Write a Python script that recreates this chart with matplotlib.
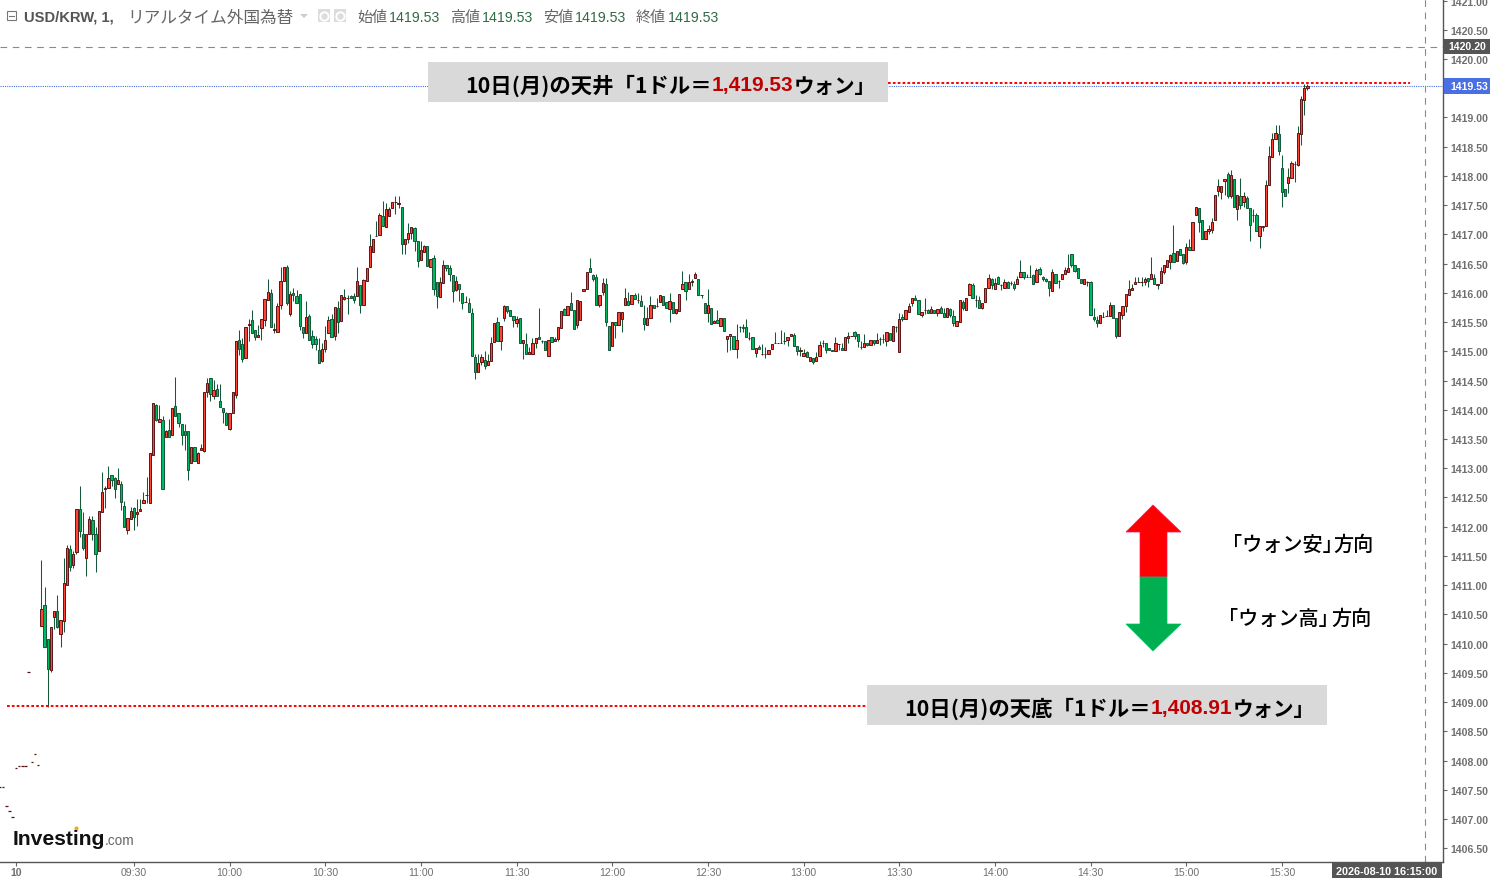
import matplotlib
matplotlib.use("Agg")
import matplotlib.pyplot as plt
from matplotlib.patches import Polygon, Rectangle

# 1 minute USD/KRW candles: (open, high, low, close)
# minutes are counted from 09:00, the first row of each list starts at its start_ value
pre_minutes = [-12, -11, -10, -9, -8, -7, -6, -5, -4, -3, -2, -1, 0]
pre_prices = [1407.54, 1407.54, 1407.22, 1407.13, 1407.04, 1407.88, 1407.90, 1407.90, 1407.90, 1409.52, 1407.98, 1408.12, 1407.93]

start_a = 1
candles_a = [
    (1410.30, 1411.43, 1410.30, 1410.59), (1410.66, 1410.96, 1409.95, 1409.95), (1410.08, 1410.08, 1408.91, 1409.57),
    (1409.55, 1410.28, 1409.52, 1410.28), (1410.45, 1410.55, 1410.25, 1410.55), (1410.55, 1410.83, 1410.27, 1410.29),
    (1410.16, 1410.41, 1409.95, 1410.41), (1410.39, 1411.47, 1410.20, 1411.04), (1411.01, 1411.68, 1411.01, 1411.64),
    (1411.61, 1411.68, 1411.25, 1411.31), (1411.35, 1411.59, 1411.29, 1411.54), (1411.57, 1412.31, 1411.54, 1412.31),
    (1412.30, 1412.69, 1411.83, 1411.92), (1411.87, 1412.25, 1411.60, 1411.63), (1411.47, 1411.87, 1411.16, 1411.87),
    (1411.88, 1412.18, 1411.88, 1412.13), (1412.11, 1412.18, 1411.78, 1411.87), (1411.88, 1412.00, 1411.23, 1411.54),
    (1411.58, 1412.26, 1411.58, 1412.26), (1412.25, 1412.93, 1412.25, 1412.59), (1412.64, 1412.69, 1412.32, 1412.66),
    (1412.66, 1413.04, 1412.66, 1412.83), (1412.88, 1412.88, 1412.70, 1412.80), (1412.83, 1412.85, 1412.49, 1412.64),
    (1412.73, 1413.01, 1412.73, 1412.80), (1412.73, 1412.78, 1412.28, 1412.42), (1412.35, 1412.44, 1411.99, 1411.99),
    (1411.94, 1412.15, 1411.88, 1412.15), (1412.13, 1412.33, 1412.13, 1412.27), (1412.32, 1412.33, 1411.94, 1412.16),
    (1412.21, 1412.48, 1412.02, 1412.25), (1412.26, 1412.48, 1412.26, 1412.30), (1412.40, 1412.59, 1412.40, 1412.46),
    (1412.55, 1412.85, 1412.41, 1412.55), (1412.40, 1413.26, 1412.40, 1413.26), (1413.22, 1414.11, 1413.22, 1414.11),
    (1414.08, 1414.10, 1413.80, 1413.82), (1413.79, 1414.08, 1413.79, 1413.84), (1413.82, 1413.89, 1412.64, 1412.64),
    (1413.53, 1413.65, 1413.53, 1413.63), (1413.66, 1413.85, 1413.54, 1413.54), (1413.57, 1414.03, 1413.57, 1414.03),
    (1414.06, 1414.56, 1413.89, 1413.90), (1413.94, 1413.94, 1413.70, 1413.77), (1413.75, 1413.75, 1413.39, 1413.57),
    (1413.63, 1413.76, 1413.32, 1413.57), (1413.63, 1413.63, 1412.79, 1412.97), (1413.09, 1413.37, 1413.09, 1413.37),
    (1413.36, 1413.36, 1413.13, 1413.13), (1413.09, 1413.28, 1413.09, 1413.26), (1413.31, 1413.42, 1413.31, 1413.35),
    (1413.30, 1414.30, 1413.28, 1414.30), (1414.31, 1414.55, 1414.22, 1414.45), (1414.54, 1414.55, 1414.15, 1414.27),
    (1414.24, 1414.51, 1414.19, 1414.34), (1414.35, 1414.44, 1414.23, 1414.23), (1414.15, 1414.44, 1414.04, 1414.04),
    (1414.03, 1414.03, 1413.78, 1413.97), (1413.94, 1413.96, 1413.74, 1413.74), (1413.67, 1413.94, 1413.65, 1413.94),
    (1413.94, 1414.30, 1413.94, 1414.30), (1414.25, 1415.18, 1414.20, 1415.17),
]

start_a2 = 63
candles_a2 = [
    (1415.19, 1415.37, 1414.93, 1415.04), (1415.12, 1415.23, 1414.82, 1414.86), (1414.88, 1415.41, 1414.88, 1415.41),
    (1415.45, 1415.55, 1415.17, 1415.47), (1415.54, 1415.71, 1415.31, 1415.31), (1415.36, 1415.36, 1415.20, 1415.24),
    (1415.24, 1415.45, 1415.24, 1415.28), (1415.40, 1415.55, 1415.20, 1415.55), (1415.53, 1415.89, 1415.44, 1415.89),
    (1415.88, 1416.24, 1415.88, 1416.01), (1415.99, 1416.07, 1415.41, 1415.41), (1415.36, 1415.49, 1415.32, 1415.38),
    (1415.33, 1415.83, 1415.33, 1415.77), (1415.79, 1416.45, 1415.73, 1416.20), (1416.20, 1416.45, 1416.20, 1416.44),
    (1416.44, 1416.48, 1415.80, 1415.82), (1415.64, 1416.04, 1415.60, 1415.98), (1416.00, 1416.09, 1415.86, 1415.96),
    (1415.94, 1416.05, 1415.82, 1415.82), (1415.98, 1415.98, 1415.37, 1415.43), (1415.41, 1415.41, 1415.23, 1415.31),
    (1415.31, 1415.86, 1415.31, 1415.59), (1415.61, 1415.63, 1415.19, 1415.19), (1415.26, 1415.37, 1415.06, 1415.12),
    (1415.21, 1415.26, 1415.02, 1415.12), (1415.02, 1415.23, 1414.80, 1414.80), (1414.83, 1415.14, 1414.82, 1415.04),
    (1415.04, 1415.44, 1414.98, 1415.19), (1415.31, 1415.61, 1415.31, 1415.53), (1415.55, 1415.64, 1415.24, 1415.24),
    (1415.26, 1415.76, 1415.19, 1415.76), (1415.74, 1415.86, 1415.32, 1415.50), (1415.52, 1415.96, 1415.52, 1415.96),
    (1415.89, 1416.07, 1415.87, 1415.93), (1415.92, 1415.97, 1415.63, 1415.92), (1415.94, 1415.97, 1415.91, 1415.91),
    (1415.94, 1416.00, 1415.82, 1415.88), (1415.94, 1416.45, 1415.94, 1416.20), (1416.13, 1416.13, 1415.66, 1415.79),
    (1415.79, 1416.23, 1415.79, 1416.22), (1416.20, 1416.42, 1416.20, 1416.42), (1416.44, 1417.01, 1416.44, 1416.80),
]

start_a3 = 105
candles_a3 = [
    (1416.70, 1416.92, 1416.70, 1416.92), (1416.97, 1417.23, 1416.97, 1416.97), (1416.99, 1417.36, 1416.99, 1417.33),
    (1417.31, 1417.57, 1417.14, 1417.14), (1417.12, 1417.53, 1417.12, 1417.43), (1417.31, 1417.47, 1417.31, 1417.43),
    (1417.45, 1417.55, 1417.45, 1417.55), (1417.55, 1417.65, 1417.35, 1417.55), (1417.52, 1417.65, 1417.45, 1417.54),
    (1417.47, 1417.47, 1416.67, 1416.83), (1416.83, 1416.92, 1416.66, 1416.92), (1416.92, 1417.19, 1416.85, 1417.02),
    (1417.02, 1417.12, 1416.92, 1417.12), (1417.11, 1417.12, 1416.71, 1416.89), (1416.89, 1416.89, 1416.44, 1416.54),
    (1416.56, 1416.89, 1416.56, 1416.73), (1416.70, 1416.81, 1416.70, 1416.80), (1416.80, 1416.80, 1416.46, 1416.46),
    (1416.44, 1416.58, 1416.44, 1416.58), (1416.59, 1416.65, 1415.97, 1416.06), (1416.18, 1416.18, 1415.74, 1415.94),
    (1415.93, 1416.27, 1415.93, 1416.18), (1416.17, 1416.57, 1416.17, 1416.47), (1416.47, 1416.47, 1416.37, 1416.42),
    (1416.42, 1416.48, 1416.21, 1416.32), (1416.30, 1416.30, 1415.84, 1416.03), (1416.05, 1416.29, 1416.03, 1416.20),
    (1416.15, 1416.15, 1415.86, 1416.06), (1415.99, 1415.99, 1415.72, 1415.82), (1415.84, 1415.94, 1415.84, 1415.84),
    (1415.82, 1415.91, 1415.67, 1415.67), (1415.65, 1415.74, 1414.92, 1414.92), (1414.90, 1414.96, 1414.53, 1414.65),
    (1414.65, 1414.96, 1414.65, 1414.80), (1414.82, 1414.96, 1414.77, 1414.90), (1414.85, 1415.00, 1414.70, 1414.75),
    (1414.76, 1414.96, 1414.76, 1414.83), (1414.83, 1415.24, 1414.83, 1415.14), (1415.16, 1415.48, 1415.16, 1415.48),
    (1415.50, 1415.59, 1415.17, 1415.17), (1415.17, 1415.43, 1415.03, 1415.43), (1415.57, 1415.79, 1415.51, 1415.77),
    (1415.77, 1415.77, 1415.65, 1415.69), (1415.71, 1415.71, 1415.60, 1415.60), (1415.60, 1415.60, 1415.41, 1415.53),
    (1415.49, 1415.61, 1415.41, 1415.55), (1415.57, 1415.57, 1415.15, 1415.15), (1415.14, 1415.19, 1414.86, 1415.19),
    (1415.12, 1415.31, 1414.95, 1414.95), (1414.95, 1415.07, 1414.95, 1414.98), (1414.95, 1415.22, 1414.95, 1415.14),
    (1415.14, 1415.23, 1415.06, 1415.23), (1415.24, 1415.74, 1415.21, 1415.21), (1415.17, 1415.19, 1415.14, 1415.17),
    (1415.17, 1415.17, 1415.02, 1415.02), (1414.92, 1415.19, 1414.92, 1415.19), (1415.24, 1415.24, 1415.16, 1415.16),
    (1415.18, 1415.24, 1415.18, 1415.21), (1415.21, 1415.42, 1415.18, 1415.41), (1415.40, 1415.69, 1415.40, 1415.69),
    (1415.72, 1415.74, 1415.62, 1415.62), (1415.62, 1415.77, 1415.62, 1415.77), (1415.82, 1416.01, 1415.70, 1415.70),
    (1415.70, 1415.70, 1415.38, 1415.38), (1415.45, 1415.88, 1415.40, 1415.88), (1415.53, 1415.86, 1415.53, 1415.86),
    (1416.03, 1416.07, 1416.03, 1416.07), (1416.06, 1416.35, 1416.06, 1416.35), (1416.42, 1416.59, 1416.35, 1416.35),
    (1416.30, 1416.33, 1416.21, 1416.24), (1416.27, 1416.33, 1415.79, 1415.79), (1415.79, 1415.96, 1415.76, 1415.96),
]

start_b = 177
candles_b = [
    (1416.01, 1416.26, 1415.97, 1416.16), (1416.15, 1416.26, 1415.44, 1415.50), (1415.43, 1415.43, 1415.02, 1415.02),
    (1415.09, 1415.50, 1415.09, 1415.50), (1415.50, 1415.50, 1415.23, 1415.45), (1415.45, 1415.67, 1415.45, 1415.67),
    (1415.55, 1415.67, 1415.33, 1415.67), (1415.79, 1416.08, 1415.79, 1415.91), (1415.86, 1416.01, 1415.79, 1415.79),
    (1415.81, 1415.96, 1415.81, 1415.96), (1415.96, 1416.00, 1415.89, 1415.89), (1415.87, 1416.00, 1415.82, 1415.87),
    (1415.86, 1415.96, 1415.77, 1415.77), (1415.57, 1415.79, 1415.37, 1415.46), (1415.45, 1415.75, 1415.45, 1415.57),
    (1415.57, 1415.94, 1415.57, 1415.79), (1415.80, 1415.80, 1415.74, 1415.74), (1415.78, 1415.91, 1415.76, 1415.78),
    (1415.84, 1415.96, 1415.84, 1415.96), (1415.94, 1415.94, 1415.80, 1415.80), (1415.84, 1415.84, 1415.74, 1415.74),
    (1415.72, 1416.00, 1415.50, 1415.86), (1415.84, 1415.84, 1415.65, 1415.65), (1415.65, 1415.72, 1415.63, 1415.72),
    (1415.69, 1415.98, 1415.69, 1415.98), (1416.06, 1416.37, 1416.06, 1416.15), (1416.18, 1416.18, 1415.88, 1416.03),
    (1416.06, 1416.33, 1416.06, 1416.18), (1416.18, 1416.24, 1416.12, 1416.20), (1416.25, 1416.35, 1416.25, 1416.32),
    (1416.23, 1416.23, 1415.96, 1415.96), (1415.96, 1415.96, 1415.92, 1415.96), (1415.82, 1415.82, 1415.65, 1415.65),
    (1415.65, 1416.07, 1415.50, 1415.79), (1415.74, 1415.74, 1415.46, 1415.46), (1415.48, 1415.53, 1415.48, 1415.51),
    (1415.53, 1415.71, 1415.48, 1415.48), (1415.43, 1415.57, 1415.43, 1415.57), (1415.57, 1415.57, 1415.34, 1415.34),
    (1415.21, 1415.26, 1414.98, 1415.26), (1415.26, 1415.29, 1415.02, 1415.29), (1415.26, 1415.26, 1415.04, 1415.04),
    (1415.04, 1415.46, 1414.89, 1415.19), (1415.41, 1415.43, 1415.33, 1415.41), (1415.41, 1415.46, 1415.33, 1415.40),
    (1415.41, 1415.55, 1415.24, 1415.24), (1415.23, 1415.33, 1415.19, 1415.23), (1415.24, 1415.24, 1415.04, 1415.04),
    (1414.97, 1415.05, 1414.90, 1415.05), (1415.07, 1415.10, 1415.04, 1415.04), (1414.95, 1415.13, 1414.93, 1414.95),
    (1414.96, 1415.07, 1414.89, 1414.96), (1414.95, 1415.02, 1414.95, 1415.02), (1415.04, 1415.13, 1415.04, 1415.12),
    (1415.14, 1415.33, 1415.14, 1415.14), (1415.14, 1415.14, 1415.14, 1415.14), (1415.14, 1415.37, 1415.14, 1415.14),
    (1415.17, 1415.33, 1415.13, 1415.17), (1415.19, 1415.24, 1415.09, 1415.24), (1415.26, 1415.29, 1415.26, 1415.29),
    (1415.28, 1415.31, 1415.09, 1415.09), (1415.09, 1415.09, 1414.93, 1415.00), (1415.00, 1415.07, 1414.92, 1415.02),
    (1414.92, 1415.04, 1414.92, 1414.97), (1414.98, 1415.00, 1414.90, 1414.90), (1414.83, 1414.90, 1414.83, 1414.90),
    (1414.88, 1414.88, 1414.78, 1414.81), (1414.83, 1414.98, 1414.83, 1414.90), (1414.92, 1415.17, 1414.92, 1415.10),
    (1415.14, 1415.19, 1415.07, 1415.14), (1415.14, 1415.14, 1414.97, 1415.02), (1415.05, 1415.05, 1415.02, 1415.02),
]

start_c = 249
candles_c = [
    (1415.03, 1415.03, 1415.00, 1415.00), (1415.00, 1415.24, 1415.00, 1415.14), (1415.13, 1415.13, 1415.03, 1415.13),
    (1415.05, 1415.15, 1415.03, 1415.03), (1415.03, 1415.24, 1415.03, 1415.24), (1415.22, 1415.33, 1415.15, 1415.26),
    (1415.27, 1415.27, 1415.27, 1415.27), (1415.33, 1415.35, 1415.21, 1415.26), (1415.29, 1415.29, 1415.07, 1415.17),
    (1415.08, 1415.17, 1415.04, 1415.08), (1415.07, 1415.30, 1415.07, 1415.14), (1415.15, 1415.15, 1415.09, 1415.10),
    (1415.10, 1415.20, 1415.10, 1415.20), (1415.20, 1415.20, 1415.11, 1415.14), (1415.15, 1415.31, 1415.15, 1415.20),
    (1415.21, 1415.24, 1415.10, 1415.21), (1415.21, 1415.30, 1415.15, 1415.21), (1415.17, 1415.33, 1415.09, 1415.33),
    (1415.31, 1415.31, 1415.19, 1415.19), (1415.17, 1415.43, 1415.17, 1415.43), (1415.41, 1415.44, 1415.33, 1415.41),
    (1414.98, 1415.65, 1414.98, 1415.56), (1415.58, 1415.63, 1415.51, 1415.55), (1415.56, 1415.70, 1415.56, 1415.70),
    (1415.68, 1415.82, 1415.68, 1415.77), (1415.82, 1415.91, 1415.77, 1415.91), (1415.92, 1415.96, 1415.88, 1415.88),
    (1415.88, 1415.88, 1415.63, 1415.63), (1415.62, 1415.68, 1415.58, 1415.68), (1415.71, 1415.91, 1415.64, 1415.71),
    (1415.70, 1415.72, 1415.65, 1415.65), (1415.65, 1415.77, 1415.65, 1415.72), (1415.70, 1415.70, 1415.65, 1415.65),
    (1415.65, 1415.72, 1415.61, 1415.72), (1415.74, 1415.77, 1415.65, 1415.65), (1415.65, 1415.74, 1415.58, 1415.58),
    (1415.58, 1415.74, 1415.58, 1415.74), (1415.72, 1415.74, 1415.58, 1415.62), (1415.60, 1415.70, 1415.44, 1415.48),
    (1415.44, 1415.51, 1415.44, 1415.51), (1415.50, 1415.87, 1415.50, 1415.87), (1415.84, 1415.87, 1415.70, 1415.74),
    (1415.70, 1415.92, 1415.70, 1415.92), (1415.96, 1416.17, 1415.96, 1416.15), (1416.13, 1416.16, 1415.92, 1415.92),
    (1415.87, 1415.96, 1415.75, 1415.87), (1415.87, 1415.95, 1415.74, 1415.74), (1415.74, 1415.82, 1415.72, 1415.82),
    (1415.84, 1416.08, 1415.84, 1416.08), (1416.09, 1416.32, 1416.09, 1416.25), (1416.23, 1416.25, 1416.07, 1416.13),
    (1416.06, 1416.25, 1416.06, 1416.16), (1416.27, 1416.28, 1416.15, 1416.15), (1416.14, 1416.15, 1416.05, 1416.14),
    (1416.09, 1416.24, 1416.09, 1416.18), (1416.18, 1416.20, 1416.08, 1416.08), (1416.16, 1416.20, 1416.13, 1416.16),
    (1416.15, 1416.20, 1416.05, 1416.09), (1416.15, 1416.28, 1416.15, 1416.23), (1416.27, 1416.56, 1416.27, 1416.35),
    (1416.35, 1416.35, 1416.23, 1416.27), (1416.27, 1416.32, 1416.27, 1416.27), (1416.27, 1416.48, 1416.27, 1416.27),
    (1416.30, 1416.33, 1416.15, 1416.15), (1416.18, 1416.42, 1416.18, 1416.39), (1416.40, 1416.44, 1416.30, 1416.32),
    (1416.27, 1416.29, 1416.20, 1416.23), (1416.23, 1416.25, 1416.18, 1416.20), (1416.20, 1416.20, 1415.94, 1416.09),
    (1416.03, 1416.41, 1416.03, 1416.35), (1416.32, 1416.32, 1416.16, 1416.16), (1416.20, 1416.22, 1416.08, 1416.21),
    (1416.23, 1416.32, 1416.23, 1416.32), (1416.32, 1416.45, 1416.32, 1416.39), (1416.35, 1416.66, 1416.35, 1416.42),
]

start_d = 324
candles_d = [
    (1416.66, 1416.66, 1416.44, 1416.47), (1416.47, 1416.47, 1416.35, 1416.37), (1416.42, 1416.42, 1416.25, 1416.25),
    (1416.23, 1416.23, 1416.16, 1416.16), (1416.15, 1416.23, 1416.15, 1416.23), (1416.19, 1416.20, 1416.11, 1416.19),
    (1416.18, 1416.20, 1415.62, 1415.62), (1415.58, 1415.74, 1415.51, 1415.55), (1415.53, 1415.60, 1415.41, 1415.48),
    (1415.48, 1415.62, 1415.48, 1415.62), (1415.59, 1415.68, 1415.59, 1415.59), (1415.60, 1415.71, 1415.60, 1415.60),
    (1415.60, 1415.84, 1415.60, 1415.79), (1415.79, 1415.79, 1415.57, 1415.57), (1415.57, 1415.57, 1415.23, 1415.27),
    (1415.27, 1415.67, 1415.27, 1415.67), (1415.62, 1415.77, 1415.55, 1415.77), (1415.77, 1415.98, 1415.68, 1415.98),
    (1415.96, 1416.22, 1415.96, 1416.06), (1416.05, 1416.15, 1416.05, 1416.08), (1416.15, 1416.27, 1416.15, 1416.18),
    (1416.19, 1416.27, 1416.19, 1416.19), (1416.18, 1416.27, 1416.12, 1416.18), (1416.18, 1416.27, 1416.13, 1416.23),
    (1416.25, 1416.25, 1416.10, 1416.20), (1416.23, 1416.61, 1416.23, 1416.33), (1416.25, 1416.32, 1416.15, 1416.15),
    (1416.13, 1416.15, 1416.07, 1416.15), (1416.16, 1416.44, 1416.16, 1416.37), (1416.35, 1416.47, 1416.33, 1416.47),
    (1416.44, 1416.56, 1416.44, 1416.56), (1416.52, 1416.66, 1416.41, 1416.64), (1416.68, 1417.16, 1416.52, 1416.52),
    (1416.54, 1416.72, 1416.54, 1416.71), (1416.75, 1416.75, 1416.64, 1416.64), (1416.66, 1416.66, 1416.50, 1416.51),
    (1416.52, 1416.85, 1416.50, 1416.78), (1416.78, 1416.92, 1416.73, 1416.73), (1416.73, 1417.21, 1416.73, 1417.21),
    (1417.33, 1417.46, 1417.33, 1417.46), (1417.45, 1417.45, 1417.04, 1417.22), (1417.24, 1417.24, 1416.92, 1416.92),
    (1416.92, 1417.05, 1416.92, 1417.05), (1417.06, 1417.16, 1417.00, 1417.09), (1417.07, 1417.28, 1417.03, 1417.21),
    (1417.24, 1417.67, 1417.24, 1417.67), (1417.74, 1417.95, 1417.66, 1417.82), (1417.72, 1417.82, 1417.61, 1417.82),
    (1417.91, 1417.94, 1417.67, 1417.94), (1418.03, 1418.06, 1417.63, 1417.65), (1417.65, 1418.10, 1417.63, 1418.01),
    (1417.94, 1417.94, 1417.46, 1417.46), (1417.43, 1417.67, 1417.25, 1417.67), (1417.65, 1417.96, 1417.44, 1417.50),
    (1417.55, 1417.72, 1417.46, 1417.65), (1417.62, 1417.65, 1417.45, 1417.45), (1417.45, 1417.45, 1416.88, 1417.16),
    (1417.33, 1417.43, 1417.22, 1417.33), (1417.33, 1417.36, 1417.05, 1417.05), (1416.98, 1417.14, 1416.77, 1417.14),
    (1417.13, 1417.15, 1417.06, 1417.15), (1417.15, 1417.93, 1417.15, 1417.84),
]

start_e = 386
candles_e = [
    (1417.85, 1418.52, 1417.85, 1418.34), (1418.32, 1418.73, 1418.32, 1418.63), (1418.63, 1418.87, 1418.63, 1418.73),
    (1418.72, 1418.87, 1418.35, 1418.43), (1418.13, 1418.35, 1417.47, 1417.72), (1417.77, 1417.77, 1417.65, 1417.65),
    (1417.88, 1418.13, 1417.70, 1417.98), (1417.96, 1418.25, 1417.96, 1418.22), (1418.20, 1418.25, 1417.89, 1418.20),
    (1418.19, 1418.85, 1418.17, 1418.73), (1418.72, 1419.37, 1418.53, 1419.31), (1419.30, 1419.57, 1419.05, 1419.50),
    (1419.50, 1419.58, 1419.47, 1419.53),
]

x_ticks = [-7, 30, 60, 90, 120, 150, 180, 210, 240, 270, 300, 330, 360, 390]
x_tick_labels = ["10", "09:30", "10:00", "10:30", "11:00", "11:30", "12:00", "12:30",
                 "13:00", "13:30", "14:00", "14:30", "15:00", "15:30"]
y_ticks = [1406.5 + 0.5 * i for i in range(30)]

last_price = 1419.53
cross_price = 1420.20
cross_minute = 435
top_price = "1,419.53"
low_price = "1,408.91"

RED = "#ff4433"
RED_EDGE = "#5c1414"
GREEN = "#00b860"
GREEN_EDGE = "#14573a"
WICK = "#17583a"
GRAY = "#707070"
BLUE = "#4a6fe3"
DARK = "#555555"
FONT = ["Noto Sans CJK JP", "DejaVu Sans"]
NUM = ["Liberation Sans", "DejaVu Sans"]

fig = plt.figure(figsize=(14.9, 8.79), dpi=100, facecolor="white")
ax = fig.add_axes([0, 16 / 879, 1443 / 1490, 863 / 879])
ax.set_xlim(-38.2 / 3.189, (1443 - 38.2) / 3.189)
ax.set_ylim(1420 - 803 / 58.46, 1420 + 60 / 58.46)
for s in ["left", "top"]:
    ax.spines[s].set_visible(False)
for s in ["right", "bottom"]:
    ax.spines[s].set_color("#555555")
    ax.spines[s].set_linewidth(1.0)


def draw_candles(start, rows):
    for k, (o, h, l, c) in enumerate(rows):
        x = start + k
        up = c >= o
        ax.vlines(x, l, h, color=WICK, lw=0.75, zorder=2)
        ax.bar(x, abs(c - o), bottom=min(o, c), width=0.72,
               color=RED if up else GREEN, edgecolor=RED_EDGE if up else GREEN_EDGE,
               linewidth=0.7, zorder=3)


for st, rows in [(start_a, candles_a), (start_a2, candles_a2), (start_a3, candles_a3),
                 (start_b, candles_b), (start_c, candles_c), (start_d, candles_d), (start_e, candles_e)]:
    draw_candles(st, rows)
ax.hlines(pre_prices, [m - 0.4 for m in pre_minutes], [m + 0.4 for m in pre_minutes], color="#5a1010", lw=0.9)

ax.axhline(last_price, color=BLUE, lw=0.8, ls=(0, (1, 1)), zorder=1)
ax.axhline(cross_price, color="#8a8a8a", lw=0.8, ls=(0, (6, 5)), zorder=1)
ax.axvline(cross_minute, color="#8a8a8a", lw=0.8, ls=(0, (6, 5)), zorder=1)

ax.yaxis.tick_right()
ax.set_yticks(y_ticks)
# the 1419.50 label sits behind the last price flag
ax.set_yticklabels(["" if v == 1419.5 else "%.2f" % v for v in y_ticks], fontfamily=NUM, fontsize=7.6,
                   color=GRAY, fontweight="bold")
ax.set_xticks(x_ticks)
ax.set_xticklabels(x_tick_labels, fontfamily=NUM, fontsize=7.6, color=GRAY)
ax.get_xticklabels()[0].set_fontweight("bold")
ax.tick_params(axis="y", length=3, width=0.8, color="#666666", pad=2.5)
ax.tick_params(axis="x", length=3, width=0.8, color="#666666", pad=0.8)

# overlay in screen pixels for the annotations pasted on the chart
ov = fig.add_axes([0, 0, 1, 1])
ov.set_xlim(0, 1490)
ov.set_ylim(879, 0)
ov.axis("off")
ov.patch.set_alpha(0)
renderer = fig.canvas.get_renderer()


def put_runs(x, y, runs, size, weight="bold"):
    for text, color, family, sz in [r if len(r) == 4 else (*r, size) for r in runs]:
        t = ov.text(x, y, text, color=color, fontsize=sz, fontfamily=family, fontweight=weight,
                    ha="left", va="center_baseline")
        x += t.get_window_extent(renderer).width
    return x


ov.add_patch(Rectangle((428, 63), 460, 40, color="#d9d9d9", lw=0, zorder=1))
ov.add_patch(Rectangle((867, 686), 460, 40, color="#d9d9d9", lw=0, zorder=1))
ov.plot([888, 1410], [83.5, 83.5], color="#ff0000", lw=1.4, ls=(0, (1.4, 1.1)))
ov.plot([7, 867], [706.5, 706.5], color="#ff0000", lw=1.4, ls=(0, (1.4, 1.1)))
put_runs(465, 84, [("10日(月)の天井「1ドル＝", "black", FONT), (top_price, "#c00000", NUM, 15),
                   ("ウォン」", "black", FONT, 14.8)], 15.4)
put_runs(904, 707, [("10日(月)の天底「1ドル＝", "black", FONT), (low_price, "#c00000", NUM, 15),
                    ("ウォン」", "black", FONT, 14.8)], 15.4)

ov.add_patch(Polygon([(1153, 506), (1181, 533), (1167, 533), (1167, 578), (1140, 578), (1140, 533), (1126, 533)],
                     closed=True, facecolor="#ff0000", edgecolor="#ff1060", lw=0.5))
ov.add_patch(Polygon([(1153, 652), (1181, 625), (1167, 625), (1167, 578), (1140, 578), (1140, 625), (1126, 625)],
                     closed=True, facecolor="#00b050", edgecolor="#00c060", lw=0.5))
put_runs(1222, 543, [("「ウォン安」", "black", FONT)], 14.5, "medium")
put_runs(1333, 543, [("方向", "black", FONT)], 14.5, "medium")
put_runs(1218, 617, [("「ウォン高」", "black", FONT)], 14.5, "medium")
put_runs(1331, 617, [("方向", "black", FONT)], 14.5, "medium")

# header legend line
ov.add_patch(Rectangle((6.5, 12), 9, 9, fill=False, edgecolor="#777777", lw=0.8))
ov.plot([8.5, 13.5], [16.5, 16.5], color="#777777", lw=0.8)
put_runs(24, 16, [("USD/KRW, 1,", "#555555", NUM)], 10.6, "bold")
put_runs(127, 16, [("リアルタイム外国為替", "#666666", FONT)], 12, "regular")
ov.add_patch(Polygon([(300, 15), (308, 15), (304, 19)], closed=True, color="#cccccc", lw=0))
for ix in [318, 334]:
    ov.add_patch(Rectangle((ix, 10), 12, 13, color="#dcdcdc", lw=0))
    ov.plot([ix + 6], [16.5], marker="o", ms=6, mfc="none", mec="white", mew=1.4)
for lab, xl, xv in [("始値", 357, 389), ("高値", 450, 482), ("安値", 543, 575), ("終値", 636, 668)]:
    put_runs(xl, 16, [(lab, "#666666", FONT)], 10.8, "regular")
    put_runs(xv, 16, [("%.2f" % last_price, "#2f6b45", NUM)], 10.2, "regular")

# price and time flags
ov.add_patch(Rectangle((1444, 40), 46, 15, color=DARK, lw=0, zorder=5))
ov.text(1467, 47.5, "%.2f" % cross_price, color="white", fontsize=7.6, fontfamily=NUM, fontweight="bold",
        ha="center", va="center", zorder=6)
ov.add_patch(Rectangle((1444, 79), 46, 16, color=BLUE, lw=0, zorder=5))
ov.text(1469, 87, "%.2f" % last_price, color="white", fontsize=7.6, fontfamily=NUM, fontweight="bold",
        ha="center", va="center", zorder=6)
ov.add_patch(Rectangle((1332, 863), 110, 16, color=DARK, lw=0, zorder=5))
ov.text(1387, 872.5, "2026-08-10 16:15:00", color="white", fontsize=7.8, fontfamily=NUM, fontweight="bold",
        ha="center", va="center", zorder=6)

# logo
x_end = put_runs(13, 838, [("Investing", "#111111", NUM)], 15.2)
put_runs(x_end - 1, 840, [(".com", "#666666", NUM)], 9.8, "regular")
ov.plot([76], [829], marker="o", ms=3, color="#f5a623", mew=0)

fig.savefig("out.png", dpi=100)
